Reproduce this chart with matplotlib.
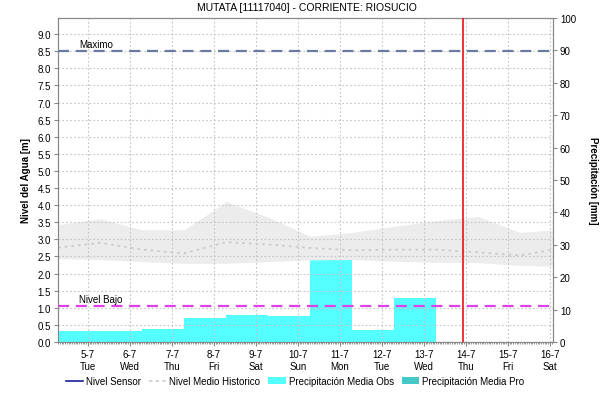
import matplotlib
matplotlib.use("Agg")
import matplotlib.pyplot as plt
import numpy as np
from matplotlib.lines import Line2D
from matplotlib.patches import Patch

plt.rcParams['font.family'] = ['Liberation Sans', 'DejaVu Sans']

# --- data ---
day_ticks = list(range(5, 17))
day_labels = ["5-7\nTue", "6-7\nWed", "7-7\nThu", "8-7\nFri", "9-7\nSat", "10-7\nSun",
              "11-7\nMon", "12-7\nTue", "13-7\nWed", "14-7\nThu", "15-7\nFri", "16-7\nSat"]

# precipitation bars (mm), daily starting at 07:00
bar_starts = [4.29, 5.29, 6.29, 7.29, 8.29, 9.29, 10.29, 11.29, 12.29]
precip_obs = [3.5, 3.3, 3.9, 7.3, 8.3, 7.9, 26.9, 3.8, 13.6]

# historic band (m)
hist_x = [4.29, 5.29, 6.29, 7.29, 8.29, 9.29, 10.29, 11.29, 12.29, 13.29, 14.29, 15.29, 16.07]
hist_top = [3.43, 3.60, 3.28, 3.28, 4.10, 3.65, 3.09, 3.20, 3.38, 3.55, 3.67, 3.20, 3.28]
hist_bot = [2.44, 2.41, 2.35, 2.30, 2.30, 2.35, 2.40, 2.41, 2.36, 2.33, 2.32, 2.24, 2.22]
hist_mean = [2.76, 2.90, 2.70, 2.59, 2.92, 2.85, 2.75, 2.68, 2.70, 2.70, 2.62, 2.53, 2.70]

nivel_maximo = 8.5
nivel_bajo = 1.05
now_x = 13.92

fig = plt.figure(figsize=(6.13, 4.02), dpi=100)
ax = fig.add_axes([58/613, 1-343/402, (553-58)/613, (343-19)/402])
ax2 = ax.twinx()

ax.set_xlim(4.286, 16.07)
ax.set_ylim(0, 9.47)
ax2.set_ylim(0, 100)

# bars on right axis
ax2.bar(bar_starts, precip_obs, width=1.0, align='edge', color='#55ffff', edgecolor='none', zorder=2)

# historic band
ax.fill_between(hist_x, hist_bot, hist_top, color='#ececec', lw=0, zorder=1)
ax.plot(hist_x, hist_mean, color='#c8c8c8', ls=(0, (1.5, 2.5)), lw=1.2, zorder=1.5)

ax.set_zorder(ax2.get_zorder() + 1)
ax.patch.set_visible(False)

ax.axhline(nivel_maximo, color='#6b7aa3', ls=(0, (5, 3)), lw=1.6, zorder=4)
ax.axhline(nivel_bajo, color='#e040e8', ls=(0, (5, 3)), lw=1.6, zorder=4)
ax.text(4.78, nivel_maximo + 0.05, "Maximo", fontsize=7, va='bottom', ha='left', zorder=5)
ax.text(4.78, nivel_bajo + 0.05, "Nivel Bajo", fontsize=7, va='bottom', ha='left', zorder=5)
ax.axvline(now_x, color='#ee1111', lw=1.2, zorder=5)

ax.set_xticks(day_ticks)
ax.set_xticklabels(day_labels, fontsize=7)
ax.set_yticks(np.arange(0, 9.01, 0.5))
ax.set_yticklabels([f"{v:.1f}" for v in np.arange(0, 9.01, 0.5)], fontsize=7)
ax2.set_yticks(np.arange(0, 101, 10))
ax2.set_yticklabels([str(v) for v in range(0, 101, 10)], fontsize=7)
ax.set_xticks(np.arange(4.29, 16.07, 1/24), minor=True)
ax.tick_params(axis='x', which='minor', length=1.5, color='#888888')

ax.grid(True, color='#c4c4c4', ls=(0, (1.5, 2)), lw=0.8)
for a in (ax, ax2):
    a.tick_params(axis='both', which='major', length=3, width=0.8, color='#888888', pad=2)
    for s in a.spines.values():
        s.set_color('#888888')
        s.set_linewidth(0.8)

ax.set_ylabel("Nivel del Agua [m]", fontsize=7, fontweight='bold', labelpad=5)
ax2.set_ylabel("Precipitación [mm]", fontsize=7, fontweight='bold', rotation=-90, labelpad=16)
fig.text(0.5, 1-8/402, "MUTATA [11117040] - CORRIENTE: RIOSUCIO", ha='center', va='center', fontsize=7.5)

handles = [
    Line2D([], [], color='#1a1aa0', lw=1.2),
    Line2D([], [], color='#cccccc', lw=1.2, ls=(0, (2, 2))),
    Patch(facecolor='#55ffff', edgecolor='none'),
    Patch(facecolor='#44c8c8', edgecolor='none'),
]
labels = ["Nivel Sensor", "Nivel Medio Historico", "Precipitación Media Obs", "Precipitación Media Pro"]
fig.legend(handles, labels, loc='center left', bbox_to_anchor=(62/613, 1-382/402), ncol=4, frameon=False,
           fontsize=7, handlelength=1.8, handletextpad=0.3, columnspacing=0.8, borderaxespad=0)

fig.savefig("out.png", dpi=100)
